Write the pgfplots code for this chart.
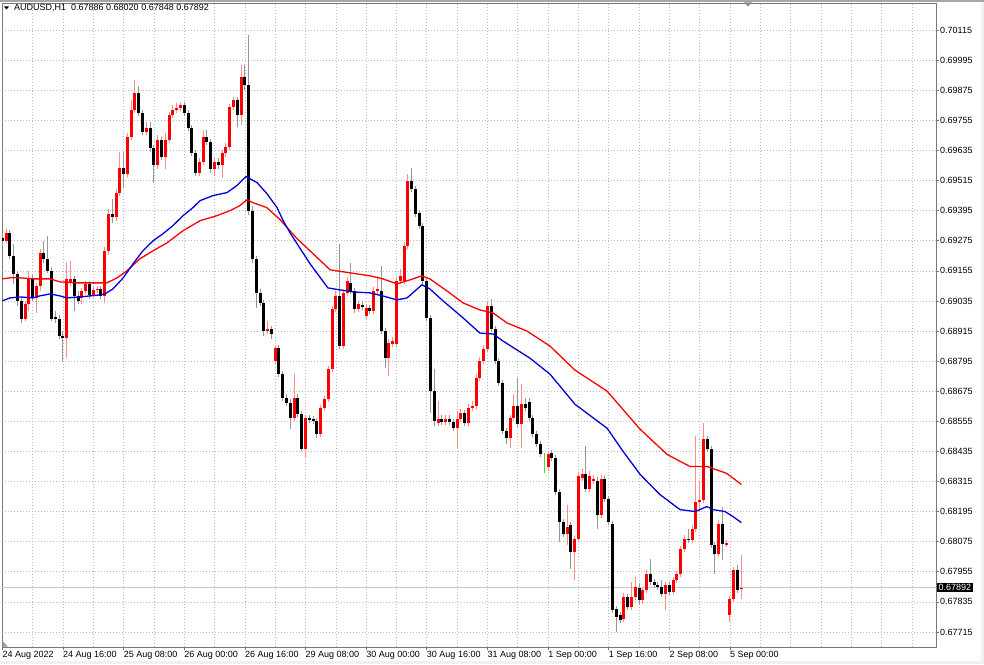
\documentclass[border=0pt]{standalone}
\usepackage{fontspec}
\setmainfont{Liberation Sans}
\usepackage{pgfplots}
\usepackage{pgfplotstable}
\pgfplotsset{compat=1.18}
\usetikzlibrary{calc}

\definecolor{bull}{RGB}{255,0,0}
\definecolor{bullwick}{RGB}{255,140,140}
\definecolor{bear}{RGB}{0,0,0}
\definecolor{bearwick}{RGB}{150,150,150}
\definecolor{doji}{RGB}{60,220,60}
\definecolor{gridc}{RGB}{176,186,202}
\definecolor{bidc}{RGB}{196,202,212}
\definecolor{framec}{RGB}{120,120,120}
\definecolor{maRed}{RGB}{255,0,0}
\definecolor{maBlue}{RGB}{0,0,215}

\newcommand\mtfont{\fontsize{9}{10}\selectfont}

% AUDUSD H1 bars: index, open, high, low, close
\pgfplotstableread{
i O H L C
0 0.69287 0.69307 0.69255 0.69275
1 0.69275 0.69323 0.69267 0.69307
2 0.69307 0.69319 0.69203 0.69215
3 0.69215 0.69263 0.69103 0.69143
4 0.69143 0.69155 0.69015 0.69035
5 0.69035 0.69051 0.68947 0.68963
6 0.68963 0.69035 0.68955 0.69023
7 0.69023 0.69155 0.68995 0.69127
8 0.69127 0.69139 0.69035 0.69047
9 0.69047 0.69107 0.68987 0.69095
10 0.69095 0.69243 0.69075 0.69227
11 0.69227 0.69275 0.69187 0.69203
12 0.69203 0.69295 0.69147 0.69155
13 0.69155 0.69171 0.68955 0.68963
14 0.68971 0.68995 0.68947 0.68963
15 0.68963 0.68979 0.68883 0.68895
16 0.68895 0.68915 0.68795 0.68887
17 0.68887 0.69187 0.68807 0.69123
18 0.69111 0.69195 0.69095 0.69123
19 0.69123 0.69135 0.68995 0.69055
20 0.69055 0.69075 0.69023 0.69035
21 0.69047 0.69087 0.69023 0.69075
22 0.69075 0.69115 0.69063 0.69103
23 0.69103 0.69115 0.69043 0.69059
24 0.69059 0.69091 0.69051 0.69079
25 0.69079 0.69095 0.69067 0.69083
26 0.69083 0.69095 0.69043 0.69055
27 0.69055 0.69251 0.69027 0.69235
28 0.69235 0.69403 0.69219 0.69383
29 0.69383 0.69443 0.69347 0.69371
30 0.69371 0.69483 0.69355 0.69467
31 0.69467 0.69627 0.69455 0.69567
32 0.69567 0.69627 0.69487 0.69543
33 0.69543 0.69703 0.69531 0.69687
34 0.69687 0.69835 0.69675 0.69795
35 0.69795 0.69915 0.69783 0.69863
36 0.69863 0.69891 0.69771 0.69783
37 0.69783 0.69795 0.69695 0.69707
38 0.69707 0.69747 0.69695 0.69723
39 0.69723 0.69747 0.69627 0.69643
40 0.69643 0.69655 0.69507 0.69575
41 0.69575 0.69695 0.69563 0.69675
42 0.69675 0.69687 0.69595 0.69607
43 0.69607 0.69703 0.69563 0.69675
44 0.69675 0.69787 0.69663 0.69775
45 0.69775 0.69815 0.69763 0.69795
46 0.69795 0.69823 0.69783 0.69803
47 0.69803 0.69827 0.69791 0.69815
48 0.69815 0.69827 0.69771 0.69783
49 0.69783 0.69795 0.69711 0.69723
50 0.69723 0.69735 0.69611 0.69623
51 0.69623 0.69635 0.69535 0.69547
52 0.69547 0.69603 0.69535 0.69587
53 0.69587 0.69715 0.69575 0.69687
54 0.69687 0.69715 0.69655 0.69667
55 0.69667 0.69679 0.69547 0.69563
56 0.69563 0.69603 0.69535 0.69587
57 0.69587 0.69603 0.69563 0.69575
58 0.69575 0.69635 0.69527 0.69623
59 0.69623 0.69663 0.69607 0.69647
60 0.69647 0.69819 0.69635 0.69807
61 0.69807 0.69847 0.69795 0.69835
62 0.69835 0.69847 0.69727 0.69775
63 0.69775 0.69975 0.69735 0.69927
64 0.69927 0.69975 0.69875 0.69895
65 0.69895 0.70095 0.69379 0.69395
66 0.69395 0.69415 0.69187 0.69203
67 0.69203 0.69215 0.69007 0.69067
68 0.69067 0.69083 0.69015 0.69027
69 0.69027 0.69039 0.68895 0.68915
70 0.68915 0.68955 0.68903 0.68923
71 0.68923 0.68935 0.68883 0.68903
72 0.68795 0.68859 0.68783 0.68847
73 0.68847 0.68859 0.68731 0.68743
74 0.68743 0.68755 0.68635 0.68647
75 0.68647 0.68663 0.68615 0.68627
76 0.68627 0.68643 0.68523 0.68567
77 0.68567 0.68743 0.68555 0.68647
78 0.68647 0.68663 0.68571 0.68583
79 0.68583 0.68595 0.68435 0.68443
80 0.68443 0.68579 0.68407 0.68567
81 0.68567 0.68579 0.68547 0.68559
82 0.68563 0.68575 0.68543 0.68555
83 0.68555 0.68567 0.68487 0.68503
84 0.68503 0.68619 0.68491 0.68607
85 0.68607 0.68655 0.68595 0.68643
86 0.68643 0.68775 0.68631 0.68763
87 0.68763 0.69015 0.68751 0.69003
88 0.69003 0.69075 0.68991 0.69055
89 0.69055 0.69263 0.68843 0.68855
90 0.68855 0.69083 0.68843 0.69067
91 0.69067 0.69131 0.69055 0.69115
92 0.69107 0.69187 0.69063 0.69075
93 0.69075 0.69087 0.68987 0.69003
94 0.69003 0.69035 0.68991 0.69023
95 0.69019 0.69035 0.68999 0.69011
96 0.68975 0.69023 0.68963 0.69007
97 0.69007 0.69019 0.68983 0.68995
98 0.68995 0.69091 0.68983 0.69075
99 0.69075 0.69135 0.69063 0.69083
100 0.69075 0.69175 0.68903 0.68915
101 0.68915 0.68927 0.68767 0.68807
102 0.68807 0.68883 0.68735 0.68867
103 0.68863 0.68891 0.68851 0.68875
104 0.68863 0.69131 0.68851 0.69115
105 0.69115 0.69163 0.69103 0.69135
106 0.69115 0.69271 0.69103 0.69255
107 0.69255 0.69543 0.69243 0.69515
108 0.69515 0.69567 0.69471 0.69483
109 0.69483 0.69495 0.69371 0.69383
110 0.69387 0.69399 0.69323 0.69335
111 0.69335 0.69347 0.69099 0.69115
112 0.69115 0.69127 0.68955 0.68967
113 0.68967 0.68979 0.68587 0.68675
114 0.68675 0.68763 0.68535 0.68555
115 0.68547 0.68635 0.68535 0.68563
116 0.68563 0.68579 0.68539 0.68551
117 0.68551 0.68579 0.68539 0.68563
118 0.68563 0.68579 0.68539 0.68551
119 0.68551 0.68563 0.68515 0.68527
120 0.68527 0.68595 0.68447 0.68563
121 0.68563 0.68603 0.68551 0.68587
122 0.68587 0.68599 0.68535 0.68547
123 0.68547 0.68623 0.68535 0.68607
124 0.68607 0.68635 0.68595 0.68615
125 0.68615 0.68743 0.68603 0.68727
126 0.68727 0.68811 0.68715 0.68795
127 0.68795 0.68859 0.68783 0.68843
128 0.68843 0.69035 0.68831 0.69015
129 0.69015 0.69043 0.68911 0.68923
130 0.68923 0.68935 0.68783 0.68795
131 0.68795 0.68807 0.68695 0.68707
132 0.68707 0.68719 0.68503 0.68515
133 0.68515 0.68527 0.68463 0.68487
134 0.68487 0.68579 0.68447 0.68567
135 0.68567 0.68663 0.68555 0.68615
136 0.68615 0.68727 0.68531 0.68543
137 0.68543 0.68703 0.68447 0.68623
138 0.68623 0.68647 0.68595 0.68607
139 0.68631 0.68647 0.68555 0.68567
140 0.68567 0.68579 0.68491 0.68503
141 0.68503 0.68515 0.68451 0.68463
142 0.68463 0.68475 0.68411 0.68423
143 0.68403 0.68427 0.68347 0.68403
144 0.68371 0.68435 0.68355 0.68423
145 0.68427 0.68439 0.68395 0.68407
146 0.68407 0.68419 0.68263 0.68275
147 0.68275 0.68287 0.68075 0.68155
148 0.68155 0.68167 0.68095 0.68107
149 0.68107 0.68223 0.68063 0.68135
150 0.68143 0.68155 0.67967 0.68035
151 0.68035 0.68099 0.67923 0.68087
152 0.68087 0.68351 0.68075 0.68335
153 0.68327 0.68367 0.68315 0.68343
154 0.68343 0.68455 0.68275 0.68287
155 0.68287 0.68355 0.68275 0.68335
156 0.68315 0.68339 0.68303 0.68323
157 0.68315 0.68331 0.68127 0.68183
158 0.68183 0.68339 0.68171 0.68323
159 0.68323 0.68335 0.68235 0.68247
160 0.68247 0.68259 0.68143 0.68155
161 0.68147 0.68159 0.67791 0.67803
162 0.67807 0.67819 0.67715 0.67775
163 0.67783 0.67795 0.67751 0.67763
164 0.67767 0.67871 0.67755 0.67855
165 0.67855 0.67867 0.67803 0.67815
166 0.67815 0.67915 0.67803 0.67855
167 0.67855 0.67935 0.67843 0.67895
168 0.67891 0.67907 0.67823 0.67843
169 0.67843 0.67895 0.67827 0.67883
170 0.67883 0.67963 0.67871 0.67947
171 0.67947 0.68007 0.67903 0.67915
172 0.67915 0.67927 0.67891 0.67903
173 0.67903 0.67915 0.67883 0.67895
174 0.67895 0.67923 0.67855 0.67867
175 0.67867 0.67915 0.67803 0.67903
176 0.67903 0.67915 0.67863 0.67875
177 0.67875 0.67935 0.67863 0.67923
178 0.67923 0.67959 0.67911 0.67947
179 0.67947 0.68059 0.67935 0.68047
180 0.68047 0.68103 0.68035 0.68087
181 0.68087 0.68127 0.68071 0.68083
182 0.68083 0.68143 0.68071 0.68127
183 0.68127 0.68495 0.68115 0.68235
184 0.68235 0.68315 0.68195 0.68243
185 0.68243 0.68547 0.68231 0.68483
186 0.68483 0.68495 0.68431 0.68443
187 0.68443 0.68455 0.68051 0.68063
188 0.68063 0.68075 0.67947 0.68027
189 0.68027 0.68163 0.68015 0.68147
190 0.68147 0.68215 0.68003 0.68067
191 0.68063 0.68083 0.68055 0.68071
192 0.67783 0.67859 0.67755 0.67847
193 0.67847 0.67975 0.67835 0.67963
194 0.67963 0.67983 0.67871 0.67883
195 0.67886 0.68020 0.67848 0.67892
}\candles

% moving averages (blue = fast, red = slow)
\pgfplotstableread{
i v
0 0.69035
2.0 0.69047
4.7 0.69051
8.1 0.69047
9.9 0.69055
12.6 0.69063
15.2 0.69055
17.1 0.69047
20.5 0.69051
25.8 0.69059
27.1 0.69063
29.2 0.69083
31.9 0.69127
34.5 0.69183
37.1 0.69235
39.8 0.69275
42.4 0.69303
45.0 0.69335
47.7 0.69375
50.3 0.69407
52.2 0.69435
55.6 0.69455
59.3 0.69467
61.9 0.69495
64.3 0.69531
67.2 0.69507
69.8 0.69463
72.5 0.69407
74.1 0.69355
75.9 0.69307
81.2 0.69183
85.9 0.69087
89.1 0.69079
92.5 0.69071
97.0 0.69067
100.4 0.69055
104.1 0.69039
106.8 0.69047
110.7 0.69099
112.8 0.69083
116.3 0.69035
121.6 0.68967
126.0 0.68907
129.5 0.68903
132.1 0.68875
139.2 0.68807
144.5 0.68743
151.1 0.68623
159.6 0.68527
163.8 0.68435
168.3 0.68343
173.5 0.68263
178.8 0.68203
182.8 0.68195
185.9 0.68215
187.5 0.68203
190.7 0.68195
192.8 0.68175
195 0.68151
}\mablue

\pgfplotstableread{
i v
0 0.69123
2.0 0.69127
4.7 0.69127
8.1 0.69123
12.6 0.69123
15.2 0.69111
19.7 0.69107
25.8 0.69107
27.6 0.69107
30.3 0.69127
32.9 0.69155
36.3 0.69203
39.8 0.69235
43.5 0.69267
47.7 0.69315
52.2 0.69355
56.6 0.69375
60.1 0.69395
62.7 0.69415
64.6 0.69439
66.1 0.69427
69.8 0.69407
73.3 0.69359
77.8 0.69283
82.0 0.69223
86.5 0.69159
91.7 0.69147
97.0 0.69135
100.4 0.69123
104.1 0.69103
107.6 0.69119
110.7 0.69135
112.8 0.69123
117.3 0.69075
121.6 0.69027
126.0 0.68999
129.5 0.68987
133.2 0.68947
138.4 0.68915
144.5 0.68855
151.1 0.68759
159.6 0.68675
168.3 0.68523
175.4 0.68423
181.4 0.68375
185.9 0.68375
191.2 0.68347
195 0.68303
}\mared

\pgfplotsset{
  wick/.style={forget plot, -, line width=1pt,
    quiver={u=0, v=\thisrow{H}-\thisrow{L}}},
  body/.style={forget plot, -, line width=3pt,
    quiver={u=0, v=\thisrow{C}-\thisrow{O}}},
  up/.style={restrict expr to domain={\thisrow{C}-\thisrow{O}}{0.000001:1}},
  down/.style={restrict expr to domain={\thisrow{C}-\thisrow{O}}{-1:-0.000001}},
  flat/.style={restrict expr to domain={\thisrow{C}-\thisrow{O}}{-0.000001:0.000001}},
}

\begin{document}
\begin{tikzpicture}[x=1pt,y=1pt]
\begin{axis}[
  scale only axis, width=934pt, height=644pt,
  xmin=-0.08, xmax=246.36,
  ymin=0.67655, ymax=0.70223,
  clip mode=individual,
  axis line style={framec, line width=0.9pt},
  xtick={0,16,32,48,64,80,96,112,128,144,160,176,192},
  minor xtick={8,24,40,56,72,88,104,120,136,152,168,184,200,208,216,224,232,240},
  xticklabels={24 Aug 2022,24 Aug 16:00,25 Aug 08:00,26 Aug 00:00,26 Aug 16:00,29 Aug 08:00,30 Aug 00:00,30 Aug 16:00,31 Aug 08:00,1 Sep 00:00,1 Sep 16:00,2 Sep 08:00,5 Sep 00:00},
  ytick={0.67715,0.67835,0.67955,0.68075,0.68195,0.68315,0.68435,0.68555,0.68675,0.68795,0.68915,0.69035,0.69155,0.69275,0.69395,0.69515,0.69635,0.69755,0.69875,0.69995,0.70115},
  yticklabels={0.67715,0.67835,0.67955,0.68075,0.68195,0.68315,0.68435,0.68555,0.68675,0.68795,0.68915,0.69035,0.69155,0.69275,0.69395,0.69515,0.69635,0.69755,0.69875,0.69995,0.70115},
  xtick pos=bottom, ytick pos=right, yticklabel pos=right,
  xmajorgrids, xminorgrids, ymajorgrids,
  major grid style={gridc, line width=0.6pt, dash pattern=on 1pt off 2pt},
  minor grid style={gridc, line width=0.6pt, dash pattern=on 1pt off 2pt},
  tick align=outside, major tick length=3pt, minor tick length=0pt,
  tick style={framec, line width=0.6pt},
  x tick label style={font=\mtfont, anchor=north west, inner sep=0pt, yshift=-1pt},
  y tick label style={font=\mtfont, anchor=west, inner sep=0pt, xshift=1pt},
  /pgf/number format/assume math mode=true,
]
\coordinate (bl) at (rel axis cs:0,0);

\addplot[bidc, line width=1pt, forget plot] coordinates {(-1,0.67892) (250,0.67892)};

\addplot[wick, bullwick, up] table[x=i, y=L] {\candles};
\addplot[wick, bearwick, down] table[x=i, y=L] {\candles};
\addplot[wick, doji, flat] table[x=i, y=L] {\candles};
\addplot[body, bull, up] table[x=i, y=O] {\candles};
\addplot[body, bear, down] table[x=i, y=O] {\candles};

\addplot[maRed, line width=1.3pt] table[x=i, y=v] {\mared};
\addplot[maBlue, line width=1.3pt] table[x=i, y=v] {\mablue};

\node[fill=black, text=white, font=\mtfont, inner xsep=1.5pt, inner ysep=1pt,
  anchor=west, xshift=1pt] at (axis cs:246.36,0.67892) {0.67892};
\end{axis}

\pgfresetboundingbox
\begin{scope}[shift={($(bl)+(-2,-17)$)}]
\path[use as bounding box] (0,0) rectangle (984,664);
\fill[black!35] (0,661.5) rectangle (984,664);
\fill[black!6] (980.5,0) rectangle (984,661.5);
\fill[black!6] (0,0) rectangle (984,3);
% header and chart markers
\fill[black] (4,657.5) -- (9,657.5) -- (6.5,654.5) -- cycle;
\node[font=\mtfont, anchor=west, inner sep=0pt] at (14,656) {AUDUSD,H1\ \ 0.67886 0.68020 0.67848 0.67892};
\fill[black!45] (744,661.5) -- (752,661.5) -- (748,657.5) -- cycle;
\fill[black!40] (2.5,17.5) -- (8,17.5) -- (2.5,23) -- cycle;
\end{scope}
\end{tikzpicture}
\end{document}
